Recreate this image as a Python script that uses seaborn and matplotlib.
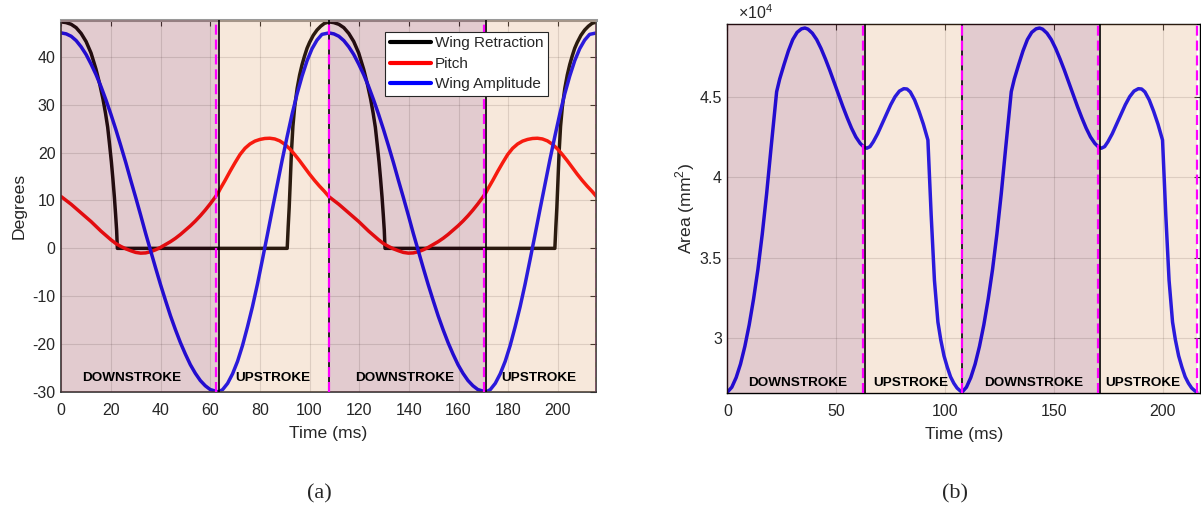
import matplotlib
matplotlib.use("Agg")
import matplotlib.pyplot as plt
import matplotlib.ticker as ticker
import seaborn as sns
import pandas as pd

# ---- stroke phases (ms) ----
stroke_bounds = [0, 63.4, 107.8, 171.0, 215.6]
reversal_t = [62.5, 107.8, 170.4, 215.8]
phase_names = ["DOWNSTROKE", "UPSTROKE", "DOWNSTROKE", "UPSTROKE"]

# ---- (a) wing kinematics, degrees ----
retraction_t = [0, 2, 4, 6, 8, 10, 12, 14, 15.5, 16.8, 17.8, 18.7, 19.5, 20.2, 20.8, 21.4, 21.9, 22.3, 22.6,
                91.0, 91.4, 91.8, 92.2, 92.7, 93.3, 94, 95, 96, 97, 98, 99, 100, 101.5, 103, 104.5, 106,
                107.8, 109.8, 111.8, 113.8, 115.8, 117.8, 119.8, 121.8, 123.3, 124.6, 125.6, 126.5, 127.3,
                128.0, 128.6, 129.2, 129.7, 130.1, 130.4,
                198.8, 199.2, 199.6, 200.0, 200.5, 201.1, 201.8, 202.8, 203.8, 204.8, 205.8, 206.8, 207.8,
                209.3, 210.8, 212.3, 213.8, 215.6]
retraction_deg = [47.3, 47.15, 46.8, 46.1, 44.9, 43.2, 40.8, 37.4, 34.3, 31.2, 28.3, 25.3, 21.5, 18.0, 14.5,
                  10.7, 7.0, 3.8, 0.0,
                  0.0, 4.5, 8.5, 13.5, 20.0, 25.5, 29.5, 33.4, 36.2, 38.4, 40.2, 41.8, 43.0, 44.5, 45.6,
                  46.4, 47.0,
                  47.3, 47.15, 46.8, 46.1, 44.9, 43.2, 40.8, 37.4, 34.3, 31.2, 28.3, 25.3, 21.5,
                  18.0, 14.5, 10.7, 7.0, 3.8, 0.0,
                  0.0, 4.5, 8.5, 13.5, 20.0, 25.5, 29.5, 33.4, 36.2, 38.4, 40.2, 41.8, 43.0,
                  44.5, 45.6, 46.4, 47.0, 47.3]

pitch_t = [0, 2, 4, 6, 8, 10, 12, 14, 16, 18, 20, 22, 24, 26, 28, 30, 32, 34, 36, 38, 40, 42, 44, 46, 48,
           50, 52, 54, 56, 58, 60, 62, 63.3, 64, 66, 68, 70, 72, 74, 76, 78, 80, 82, 84, 86, 88, 90, 92,
           94, 96, 98, 100, 102, 104, 106,
           107.8, 109.8, 111.8, 113.8, 115.8, 117.8, 119.8, 121.8, 123.8, 125.8, 127.8, 129.8, 131.8,
           133.8, 135.8, 137.8, 139.8, 141.8, 143.8, 145.8, 147.8, 149.8, 151.8, 153.8, 155.8, 157.8,
           159.8, 161.8, 163.8, 165.8, 167.8, 169.8, 171.1, 171.8, 173.8, 175.8, 177.8, 179.8, 181.8,
           183.8, 185.8, 187.8, 189.8, 191.8, 193.8, 195.8, 197.8, 199.8, 201.8, 203.8, 205.8, 207.8,
           209.8, 211.8, 213.8, 215.6]
pitch_deg = [10.8, 10.0, 9.2, 8.3, 7.4, 6.5, 5.6, 4.6, 3.6, 2.7, 1.8, 1.0, 0.4, -0.1, -0.5, -0.85, -1.0,
             -0.95, -0.7, -0.3, 0.2, 0.8, 1.4, 2.1, 2.9, 3.8, 4.7, 5.7, 6.8, 8.0, 9.3, 10.7, 11.7, 12.4,
             14.2, 16.1, 17.9, 19.6, 20.9, 21.8, 22.4, 22.75, 22.95, 23.0, 22.85, 22.45, 21.75, 20.8,
             19.6, 18.3, 16.9, 15.5, 14.2, 13.0, 11.9,
             10.8, 10.0, 9.2, 8.3, 7.4, 6.5, 5.6, 4.6, 3.6, 2.7, 1.8, 1.0, 0.4,
             -0.1, -0.5, -0.85, -1.0, -0.95, -0.7, -0.3, 0.2, 0.8, 1.4, 2.1, 2.9, 3.8,
             4.7, 5.7, 6.8, 8.0, 9.3, 10.7, 11.7, 12.4, 14.2, 16.1, 17.9, 19.6, 20.9,
             21.8, 22.4, 22.75, 22.95, 23.0, 22.85, 22.45, 21.75, 20.8, 19.6, 18.3, 16.9, 15.5,
             14.2, 13.0, 11.9, 10.8]

amplitude_t = [0, 2, 4, 6, 8, 10, 12, 14, 16, 18, 20, 22, 24, 26, 28, 30, 32, 34, 36, 38, 40, 42, 44, 46,
               48, 50, 52, 54, 56, 58, 60, 62, 63.3, 65, 67, 69, 71, 73, 75, 77, 79, 81, 83, 85, 87, 89,
               91, 93, 95, 97, 99, 101, 103, 105,
               107.8, 109.8, 111.8, 113.8, 115.8, 117.8, 119.8, 121.8, 123.8, 125.8, 127.8, 129.8, 131.8,
               133.8, 135.8, 137.8, 139.8, 141.8, 143.8, 145.8, 147.8, 149.8, 151.8, 153.8, 155.8, 157.8,
               159.8, 161.8, 163.8, 165.8, 167.8, 169.8, 171.1, 172.8, 174.8, 176.8, 178.8, 180.8, 182.8,
               184.8, 186.8, 188.8, 190.8, 192.8, 194.8, 196.8, 198.8, 200.8, 202.8, 204.8, 206.8, 208.8,
               210.8, 212.8, 215.6]
amplitude_deg = [45.0, 44.8, 44.3, 43.4, 42.1, 40.5, 38.5, 36.3, 33.8, 31.0, 28.0, 24.8, 21.4, 17.9, 14.2,
                 10.6, 6.9, 3.1, -0.5, -4.1, -7.6, -10.9, -14.1, -17.0, -19.7, -22.1, -24.3, -26.1,
                 -27.6, -28.7, -29.5, -29.8, -30.0, -29.5, -28.2, -26.2, -23.6, -20.3, -16.4, -12.2,
                 -7.5, -2.4, 2.8, 8.1, 13.3, 18.5, 23.4, 28.1, 32.3, 36.0, 39.2, 41.7, 43.5, 44.7,
                 45.0, 44.8, 44.3, 43.4, 42.1, 40.5, 38.5, 36.3, 33.8, 31.0, 28.0, 24.8, 21.4,
                 17.9, 14.2, 10.6, 6.9, 3.1, -0.5, -4.1, -7.6, -10.9, -14.1, -17.0, -19.7, -22.1,
                 -24.3, -26.1, -27.6, -28.7, -29.5, -29.8, -30.0, -29.5, -28.2, -26.2, -23.6, -20.3,
                 -16.4, -12.2, -7.5, -2.4, 2.8, 8.1, 13.3, 18.5, 23.4, 28.1, 32.3, 36.0, 39.2,
                 41.7, 43.5, 44.7, 45.0]

# ---- (b) wing area, mm^2 (x 1e4) ----
area_t = [0, 2, 4, 6, 8, 10, 12, 14, 16, 18, 20, 22.6, 24, 26, 28, 30, 32, 34, 35.6, 37, 39, 41, 43, 45,
          47, 49, 51, 53, 55, 57, 59, 61, 62.5, 64, 65.5, 67, 69, 71, 73, 75, 77, 79, 81, 82.5, 84, 86,
          88, 90, 92.1, 93.6, 95.1, 96.7, 98, 99.5, 101, 102.5, 104, 105.5, 107,
          107.8, 109.8, 111.8, 113.8, 115.8, 117.8, 119.8, 121.8, 123.8, 125.8, 127.8, 130.4, 131.8,
          133.8, 135.8, 137.8, 139.8, 141.8, 143.4, 144.8, 146.8, 148.8, 150.8, 152.8, 154.8, 156.8,
          158.8, 160.8, 162.8, 164.8, 166.8, 168.8, 170.3, 171.8, 173.3, 174.8, 176.8, 178.8, 180.8,
          182.8, 184.8, 186.8, 188.8, 190.3, 191.8, 193.8, 195.8, 197.8, 199.9, 201.4, 202.9, 204.5,
          205.8, 207.3, 208.8, 210.3, 211.8, 213.3, 214.8, 215.6]
area_e4 = [2.665, 2.695, 2.755, 2.839, 2.949, 3.083, 3.243, 3.427, 3.647, 3.897, 4.177, 4.531, 4.61, 4.70,
           4.785, 4.855, 4.90, 4.922, 4.927, 4.92, 4.895, 4.855, 4.80, 4.735, 4.665, 4.59, 4.515, 4.44,
           4.37, 4.305, 4.25, 4.21, 4.19, 4.18, 4.19, 4.22, 4.27, 4.33, 4.39, 4.45, 4.50, 4.535, 4.55,
           4.548, 4.53, 4.48, 4.41, 4.33, 4.231, 3.765, 3.36, 3.10, 2.99, 2.89, 2.82, 2.76, 2.72, 2.69,
           2.672,
           2.665, 2.695, 2.755, 2.839, 2.949, 3.083, 3.243, 3.427, 3.647, 3.897, 4.177, 4.531, 4.61,
           4.70, 4.785, 4.855, 4.90, 4.922, 4.927, 4.92, 4.895, 4.855, 4.80, 4.735, 4.665, 4.59,
           4.515, 4.44, 4.37, 4.305, 4.25, 4.21, 4.19, 4.18, 4.19, 4.22, 4.27, 4.33, 4.39,
           4.45, 4.50, 4.535, 4.55, 4.548, 4.53, 4.48, 4.41, 4.33, 4.231, 3.765, 3.36, 3.10,
           2.99, 2.89, 2.82, 2.76, 2.72, 2.69, 2.672, 2.665]

series_order = ["Wing Retraction", "Pitch", "Wing Amplitude"]
series_colors = {"Wing Retraction": "#000000", "Pitch": "#FF0000", "Wing Amplitude": "#0000FF"}

angles = pd.concat([
    pd.DataFrame({"t": retraction_t, "deg": retraction_deg, "series": "Wing Retraction"}),
    pd.DataFrame({"t": pitch_t, "deg": pitch_deg, "series": "Pitch"}),
    pd.DataFrame({"t": amplitude_t, "deg": amplitude_deg, "series": "Wing Amplitude"}),
], ignore_index=True)
area = pd.DataFrame({"t": area_t, "area": [v * 1e4 for v in area_e4]})

sns.set_theme(style="white")
plt.rcParams["font.family"] = ["Liberation Sans", "DejaVu Sans"]
plt.rcParams["mathtext.fontset"] = "custom"
plt.rcParams["mathtext.rm"] = "Liberation Sans"
plt.rcParams["axes.unicode_minus"] = False

TXT = "#262626"
DOWN = ("#8C3340", 0.25)
UP = ("#D98C4D", 0.20)


def shade(ax, text_x, text_y):
    for i in range(4):
        col, a = DOWN if i % 2 == 0 else UP
        ax.axvspan(stroke_bounds[i], stroke_bounds[i + 1], color=col, alpha=a, lw=0, zorder=3)
        ax.text(text_x[i], text_y, phase_names[i], ha="center", va="center",
                fontsize=9.7, fontweight="bold", color="black", zorder=7)
    for b in stroke_bounds[1:-1]:
        ax.axvline(b, color="black", lw=1.2, zorder=4)
    for r in reversal_t:
        ax.axvline(r, color="#FF00FF", lw=1.6, dashes=(4.5, 2.2), zorder=5)
    ax.grid(True, color=TXT, alpha=0.15, lw=0.8)
    ax.set_axisbelow(True)
    ax.tick_params(direction="in", length=4, width=0.8, top=True, right=True,
                   labelsize=11.5, colors=TXT)
    ax.tick_params(axis="x", pad=8)
    ax.tick_params(axis="y", pad=4)


fig = plt.figure(figsize=(12.01, 5.14), dpi=100)

# (a)
ax_a = fig.add_axes([0.0510, 0.2374, 0.4449, 0.7237])
sns.lineplot(data=angles, x="t", y="deg", hue="series", hue_order=series_order,
             palette=series_colors, estimator=None, sort=False, lw=2.5, ax=ax_a, zorder=2)
shade(ax_a, [28.5, 85.3, 138.5, 192.5], -27.0)
ax_a.set_xlim(0, 215.2)
ax_a.set_ylim(-30, 47.7)
ax_a.set_xticks(range(0, 201, 20))
ax_a.set_yticks(range(-30, 41, 10))
ax_a.set_xlabel("Time (ms)", fontsize=12.6, color=TXT, labelpad=6)
ax_a.set_ylabel("Degrees", fontsize=12.6, color=TXT, labelpad=4)
for s in ["left", "bottom", "right"]:
    ax_a.spines[s].set_color("#333333")
    ax_a.spines[s].set_linewidth(1.2)
ax_a.spines["top"].set_color("#999999")
ax_a.spines["top"].set_linewidth(2.2)
handles, labels = ax_a.get_legend_handles_labels()
leg = ax_a.legend(handles, labels, loc="upper right", bbox_to_anchor=(0.911, 0.968),
                  borderaxespad=0, fontsize=11, frameon=True, fancybox=False, framealpha=1,
                  edgecolor=TXT, handlelength=2.7, handletextpad=0.25, labelspacing=0.42,
                  borderpad=0.3)
leg.set_zorder(10)
leg.get_frame().set_linewidth(0.8)
for line in leg.get_lines():
    line.set_linewidth(3)

# (b)
ax_b = fig.add_axes([0.6057, 0.2360, 0.3938, 0.7167])
sns.lineplot(data=area, x="t", y="area", color="#0000FF", estimator=None, sort=False,
             lw=2.5, ax=ax_b, zorder=2)
shade(ax_b, [32.1, 84.2, 140.8, 190.8], 2.719e4)
ax_b.set_xlim(0, 217.3)
ax_b.set_ylim(2.661e4, 4.95e4)
ax_b.set_xticks(range(0, 201, 50))
ax_b.set_yticks([3e4, 3.5e4, 4e4, 4.5e4])
ax_b.yaxis.set_major_formatter(ticker.FuncFormatter(lambda v, p: f"{v / 1e4:g}"))
ax_b.set_xlabel("Time (ms)", fontsize=12.6, color=TXT, labelpad=6)
ax_b.set_ylabel(r"Area (mm$^\mathregular{2}$)", fontsize=12.6, color=TXT, labelpad=2)
for s in ax_b.spines.values():
    s.set_color("black")
    s.set_linewidth(1.0)
ax_b.text(0.022, 1.005, r"$\times\mathregular{10^4}$", transform=ax_b.transAxes,
          ha="left", va="bottom", fontsize=11.5, color=TXT)

fig.text(0.266, 0.04, "(a)", ha="center", va="center", fontsize=16,
         family=["Liberation Serif", "DejaVu Serif"])
fig.text(0.795, 0.04, "(b)", ha="center", va="center", fontsize=16,
         family=["Liberation Serif", "DejaVu Serif"])

fig.savefig("out.png", dpi=100)
